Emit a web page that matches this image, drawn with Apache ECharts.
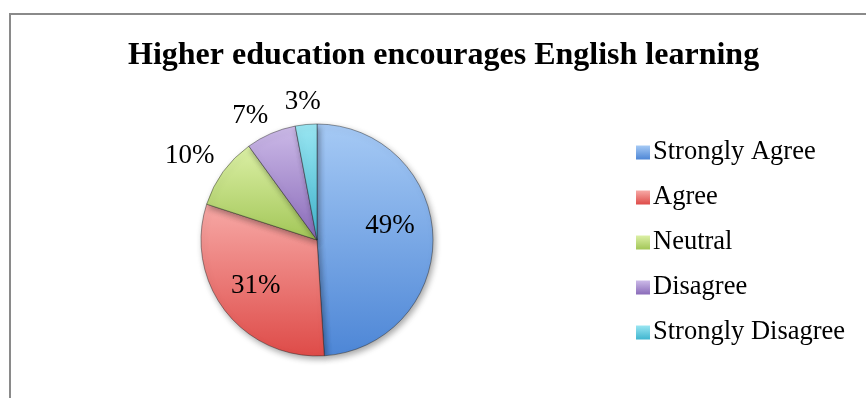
<!DOCTYPE html>
<html>
<head>
<meta charset="utf-8">
<script src="https://cdn.jsdelivr.net/npm/echarts@6/dist/echarts.min.js"></script>
<style>
  html, body { margin: 0; padding: 0; background: #fff; }
  #chart { width: 866px; height: 398px; }
</style>
</head>
<body>
<div id="chart"></div>
<script>
// Survey responses, percentage of respondents
const categories = ['Strongly Agree', 'Agree', 'Neutral', 'Disagree', 'Strongly Disagree'];
const shares = [49, 31, 10, 7, 3];

// Light (top) and dark (bottom) shade of each slice
const topShades = ['#a6caf5', '#f7a9a6', '#dcf0a6', '#ccbae8', '#9ae6f2'];
const bottomShades = ['#4d86d6', '#de4b48', '#a2c657', '#8a6bb9', '#3fb5cf'];

// Labels drawn inside the slice vs. just outside it
const labelInside = [true, true, false, false, false];
const outsideReach = [0, 0, 40, 27, 24];
// Small nudges of each label from its default spot
const labelNudgeX = [12, -13, 4, -5, 4];
const labelNudgeY = [-12, 9, 8, 7, 1];

const chart = echarts.init(document.getElementById('chart'), null, { renderer: 'canvas' });

const seriesData = categories.map((name, i) => ({
  name: name,
  value: shares[i],
  itemStyle: {
    color: {
      type: 'linear', x: 0, y: 0, x2: 0, y2: 1,
      colorStops: [
        { offset: 0, color: topShades[i] },
        { offset: 1, color: bottomShades[i] }
      ]
    }
  },
  label: { position: labelInside[i] ? 'inside' : 'outside' },
  labelLine: { show: false, length: outsideReach[i], length2: 0 }
}));

chart.setOption({
  animation: false,
  backgroundColor: '#ffffff',
  title: {
    text: 'Higher education encourages English learning',
    left: 128,
    top: 40,
    padding: 0,
    textStyle: {
      fontFamily: 'Liberation Serif',
      fontWeight: 'bold',
      fontSize: 32,
      color: '#000'
    }
  },
  legend: {
    orient: 'vertical',
    left: 636,
    top: 139,
    padding: 0,
    icon: 'rect',
    itemWidth: 14,
    itemHeight: 14,
    itemGap: 18,
    itemStyle: { borderWidth: 0 },
    textStyle: {
      fontFamily: 'Liberation Serif',
      fontSize: 26.5,
      lineHeight: 26,
      color: '#000',
      padding: [0, 0, 0, -2]
    },
    data: categories
  },
  graphic: [{
    type: 'rect',
    shape: { x: 10, y: 14, width: 900, height: 420 },
    style: { fill: 'none', stroke: '#8a8a8a', lineWidth: 2 },
    silent: true,
    z: -1
  }],
  series: [{
    type: 'pie',
    center: [317, 240],
    radius: 116,
    startAngle: 90,
    clockwise: true,
    avoidLabelOverlap: false,
    itemStyle: {
      borderColor: 'rgba(30,30,30,0.55)',
      borderWidth: 0.8,
      shadowBlur: 6,
      shadowColor: 'rgba(0,0,0,0.35)',
      shadowOffsetX: 2,
      shadowOffsetY: 3
    },
    label: {
      formatter: '{c}%',
      fontFamily: 'Liberation Serif',
      fontSize: 27,
      color: '#000'
    },
    labelLayout: function (p) {
      const i = p.dataIndex;
      const out = { dx: labelNudgeX[i], dy: labelNudgeY[i] };
      if (!labelInside[i]) {
        out.align = 'center';
        out.verticalAlign = 'middle';
      }
      return out;
    },
    data: seriesData
  }]
});
</script>
</body>
</html>
